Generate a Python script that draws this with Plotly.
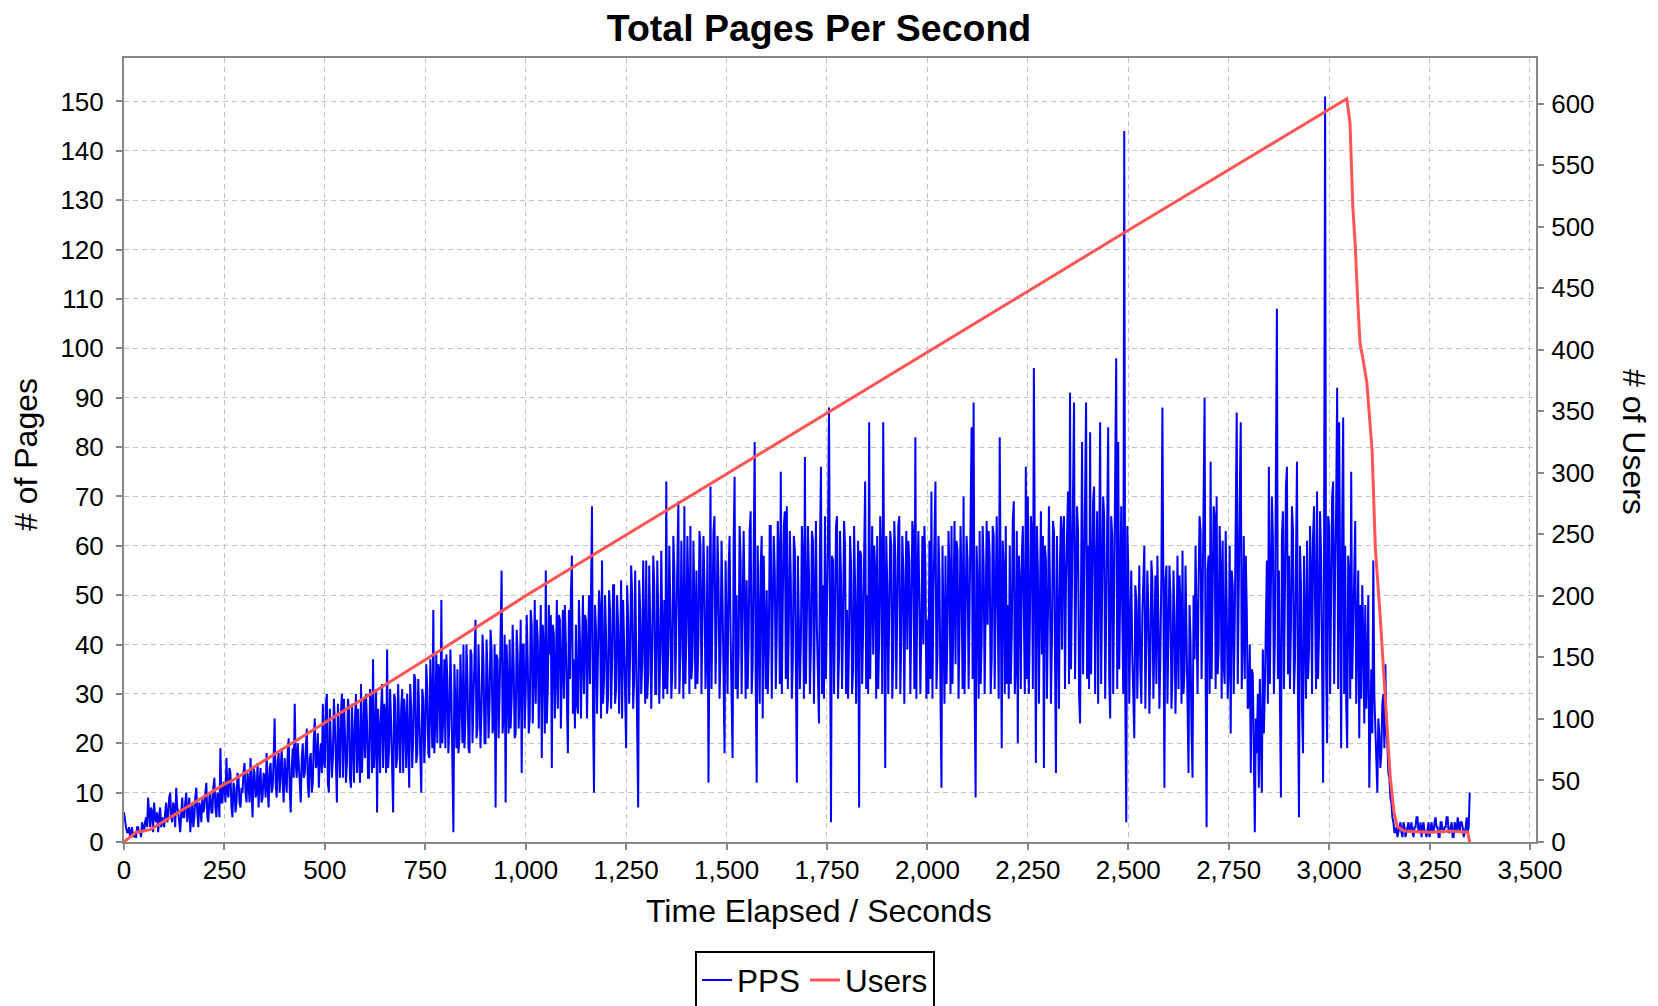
import plotly.graph_objects as go

# PPS sampled every 2.5 seconds; one row of twenty values covers 50 s
STEP = 2.5

pps_0000 = [
    6, 4, 3, 2, 2, 3, 1, 2, 3, 1, 2, 1, 1, 3, 3, 2, 2, 1, 4, 3,
    2, 4, 5, 3, 9, 6, 3, 7, 6, 2, 8, 5, 4, 6, 2, 5, 7, 3, 5, 4,
    3, 6, 8, 4, 5, 9, 10, 5, 4, 8, 7, 3, 11, 7, 6, 4, 2, 6, 9, 5,
    5, 8, 10, 4, 6, 9, 2, 6, 8, 3, 5, 9, 11, 6, 3, 8, 7, 4, 9, 6,
    7, 10, 12, 5, 4, 9, 10, 6, 6, 11, 13, 7, 5, 10, 9, 5, 19, 8, 8, 12,
]
pps_0250 = [
    12, 8, 17, 10, 9, 15, 14, 7, 5, 12, 11, 6, 8, 14, 13, 8, 7, 11, 10, 14,
    16, 10, 8, 14, 12, 8, 17, 11, 5, 15, 14, 9, 10, 16, 7, 12, 15, 8, 9, 14,
    13, 9, 18, 11, 7, 15, 16, 10, 11, 17, 25, 12, 9, 16, 18, 10, 14, 19, 12, 8,
    17, 12, 10, 18, 21, 11, 6, 15, 19, 13, 28, 16, 13, 20, 16, 11, 8, 17, 20, 13,
    14, 19, 23, 12, 9, 17, 18, 10, 12, 21, 25, 15, 16, 22, 11, 17, 20, 14, 28, 16,
]
pps_0500 = [
    15, 28, 30, 12, 10, 27, 21, 13, 17, 29, 24, 12, 8, 28, 19, 13, 26, 30, 13, 29,
    22, 12, 16, 29, 27, 13, 11, 28, 20, 12, 25, 30, 14, 27, 18, 12, 32, 14, 21, 29,
    17, 30, 24, 13, 13, 31, 28, 14, 37, 15, 20, 31, 6, 27, 23, 14, 27, 32, 15, 28,
    26, 14, 39, 15, 19, 31, 24, 13, 6, 30, 29, 15, 17, 32, 22, 14, 27, 31, 14, 29,
    25, 15, 30, 16, 11, 32, 27, 15, 21, 34, 33, 16, 18, 33, 25, 15, 10, 31, 29, 16,
]
pps_0750 = [
    22, 36, 31, 18, 17, 37, 28, 19, 47, 18, 24, 38, 20, 36, 35, 19, 49, 20, 26, 37,
    19, 38, 33, 18, 24, 39, 30, 17, 2, 36, 28, 19, 35, 18, 21, 38, 29, 20, 40, 19,
    25, 40, 33, 19, 18, 39, 38, 20, 29, 41, 45, 21, 23, 40, 31, 19, 27, 42, 36, 20,
    20, 41, 34, 21, 28, 43, 39, 22, 24, 40, 7, 38, 37, 21, 30, 44, 55, 22, 26, 42,
    8, 40, 33, 22, 41, 23, 29, 44, 36, 21, 22, 43, 38, 23, 31, 45, 14, 40, 40, 23,
]
pps_1000 = [
    30, 46, 37, 22, 25, 47, 44, 24, 33, 49, 28, 45, 41, 23, 35, 48, 17, 44, 39, 22,
    55, 24, 31, 48, 38, 46, 15, 44, 42, 25, 34, 49, 27, 46, 45, 23, 36, 47, 29, 48,
    40, 24, 18, 47, 33, 50, 58, 26, 37, 23, 44, 28, 26, 49, 41, 25, 35, 50, 30, 46,
    45, 25, 38, 50, 32, 47, 68, 27, 10, 48, 43, 26, 36, 51, 47, 25, 57, 28, 33, 50,
    42, 26, 29, 51, 47, 27, 36, 52, 52, 28, 31, 50, 44, 26, 38, 53, 25, 49, 40, 27,
]
pps_1250 = [
    19, 52, 45, 28, 38, 56, 50, 27, 33, 55, 42, 29, 7, 53, 47, 30, 36, 57, 41, 28,
    57, 29, 34, 56, 44, 27, 39, 58, 52, 30, 30, 57, 46, 28, 38, 59, 43, 29, 49, 31,
    73, 30, 40, 60, 48, 29, 35, 62, 55, 31, 44, 63, 69, 30, 38, 61, 46, 29, 68, 32,
    42, 62, 50, 30, 64, 33, 37, 61, 48, 31, 55, 32, 41, 63, 60, 30, 46, 62, 52, 31,
    39, 60, 12, 58, 72, 31, 47, 63, 66, 32, 44, 62, 53, 29, 38, 61, 49, 33, 18, 57,
]
pps_1500 = [
    46, 30, 55, 62, 42, 28, 17, 60, 74, 31, 50, 29, 38, 64, 57, 30, 44, 63, 49, 29,
    53, 31, 41, 63, 67, 30, 36, 65, 81, 33, 12, 60, 48, 28, 56, 62, 25, 58, 44, 31,
    51, 30, 39, 64, 64, 29, 47, 62, 55, 31, 42, 65, 58, 32, 75, 30, 49, 64, 67, 33,
    68, 31, 44, 63, 53, 29, 37, 62, 59, 30, 12, 58, 48, 31, 41, 64, 57, 29, 78, 32,
    46, 64, 55, 30, 40, 63, 61, 28, 50, 65, 43, 31, 24, 60, 76, 30, 52, 29, 66, 33,
]
pps_1750 = [
    45, 62, 88, 31, 4, 58, 57, 30, 49, 64, 66, 29, 38, 63, 53, 31, 44, 65, 60, 30,
    47, 29, 41, 62, 56, 30, 35, 64, 52, 28, 45, 61, 7, 59, 58, 32, 43, 63, 73, 31,
    50, 30, 85, 33, 46, 64, 38, 60, 55, 29, 62, 31, 42, 66, 57, 30, 85, 33, 15, 62,
    52, 30, 44, 63, 60, 29, 37, 65, 58, 31, 47, 64, 66, 30, 41, 62, 55, 28, 49, 63,
    39, 61, 57, 30, 46, 65, 62, 31, 82, 29, 53, 63, 48, 30, 44, 62, 40, 64, 56, 29,
]
pps_2000 = [
    45, 30, 61, 33, 71, 29, 50, 64, 73, 31, 38, 62, 54, 30, 11, 60, 47, 28, 58, 32,
    43, 63, 55, 30, 64, 32, 48, 65, 36, 61, 59, 29, 44, 64, 52, 31, 70, 30, 46, 62,
    57, 31, 48, 66, 84, 33, 89, 30, 9, 60, 51, 29, 63, 32, 40, 64, 56, 30, 49, 65,
    44, 63, 58, 30, 37, 64, 62, 31, 50, 66, 47, 29, 82, 34, 19, 61, 55, 30, 64, 32,
    48, 29, 60, 32, 42, 65, 69, 30, 36, 63, 20, 58, 53, 31, 58, 64, 47, 30, 76, 33,
]
pps_2250 = [
    70, 30, 44, 66, 62, 31, 96, 33, 16, 64, 55, 28, 49, 67, 38, 62, 15, 60, 57, 29,
    46, 68, 52, 28, 41, 65, 63, 30, 14, 62, 48, 27, 57, 66, 39, 63, 66, 31, 53, 67,
    71, 32, 91, 35, 58, 70, 89, 33, 47, 68, 63, 30, 24, 66, 81, 34, 55, 72, 89, 33,
    60, 31, 83, 34, 49, 69, 72, 30, 54, 67, 28, 64, 85, 32, 57, 70, 66, 29, 45, 68,
    84, 33, 25, 66, 62, 30, 51, 69, 98, 31, 81, 35, 56, 68, 47, 30, 144, 30, 4, 64,
]
pps_2500 = [
    56, 28, 44, 55, 38, 27, 21, 52, 49, 29, 40, 56, 35, 28, 46, 57, 60, 27, 42, 55,
    47, 26, 36, 57, 53, 29, 41, 54, 32, 58, 45, 27, 38, 55, 88, 30, 11, 53, 56, 28,
    43, 56, 50, 27, 34, 55, 46, 26, 39, 58, 31, 54, 48, 28, 59, 30, 35, 56, 42, 27,
    14, 48, 41, 22, 13, 50, 37, 60, 45, 30, 52, 66, 63, 33, 48, 68, 90, 35, 3, 55,
    58, 30, 77, 33, 47, 68, 66, 31, 70, 34, 39, 64, 55, 29, 61, 36, 32, 63, 48, 29,
]
pps_2750 = [
    36, 60, 22, 55, 52, 30, 44, 66, 87, 32, 59, 70, 85, 31, 41, 62, 33, 58, 47, 27,
    28, 40, 14, 35, 34, 12, 2, 25, 18, 30, 11, 33, 24, 10, 39, 22, 31, 50, 57, 28,
    76, 32, 48, 70, 62, 30, 41, 66, 108, 33, 55, 29, 9, 62, 67, 31, 49, 72, 76, 34,
    58, 31, 44, 68, 63, 30, 37, 66, 77, 28, 5, 60, 52, 27, 18, 58, 46, 29, 61, 33,
    39, 64, 55, 30, 62, 68, 48, 31, 71, 33, 43, 67, 58, 29, 12, 62, 151, 35, 20, 66,
]
pps_3000 = [
    64, 30, 48, 70, 73, 32, 55, 68, 92, 31, 85, 36, 19, 64, 86, 30, 60, 28, 19, 58,
    54, 29, 75, 33, 44, 62, 65, 28, 38, 55, 21, 48, 29, 52, 42, 24, 48, 27, 35, 50,
    11, 26, 35, 22, 57, 30, 24, 14, 10, 25, 22, 15, 18, 28, 30, 19, 36, 22, 20, 14,
    13, 9, 8, 5, 4, 2, 2, 3, 1, 2, 3, 4, 2, 1, 4, 3, 1, 2, 3, 4,
    2, 3, 4, 2, 1, 3, 3, 5, 5, 2, 2, 4, 1, 3, 4, 2, 2, 1, 3, 4,
]
pps_3250 = [
    1, 3, 4, 2, 2, 4, 5, 3, 3, 1, 1, 4, 4, 2, 2, 3, 3, 5, 5, 2,
    2, 3, 4, 1, 1, 4, 3, 2, 5, 3, 2, 4, 4, 3, 1, 2, 3, 5, 2, 3,
    10,
]

pps_blocks = [pps_0000, pps_0250, pps_0500, pps_0750, pps_1000, pps_1250, pps_1500,
              pps_1750, pps_2000, pps_2250, pps_2500, pps_2750, pps_3000, pps_3250]
pps = [v for block in pps_blocks for v in block]
pps_time = [i * STEP for i in range(len(pps))]

# users: ramp up to the peak, then the ramp-down
user_time = [0, 30, 65, 250, 270, 500, 750, 1000, 1500, 2000, 2500, 3044,
             3052, 3059, 3065, 3071, 3077, 3084, 3094, 3107, 3115, 3127, 3136,
             3144, 3152, 3161, 3169, 3186, 3250, 3300, 3345, 3350]
user_count = [0, 8, 10, 47, 50, 97, 148, 200, 299, 398, 497, 604,
              584, 516, 485, 441, 405, 393, 373, 318, 239, 184, 140,
              100, 53, 25, 13, 9, 8, 9, 8, 0]

# the page body adds an 8 px margin, so the figure is 8 px smaller
OFF = 8
W, H = 1658 - OFF, 1006 - OFF
PL, PR, PT, PB = 124 - OFF, 1536 - OFF, 58 - OFF, 842 - OFF
FONT = "Liberation Sans, Arial, sans-serif"
AXIS_GRAY = "#888888"
GRID = "#c4c4c4"


def px_x(x):
    return (x - OFF - PL) / (PR - PL)


def px_y(y):
    return (PB - (y - OFF)) / (PB - PT)


fig = go.Figure()
fig.add_trace(go.Scatter(x=pps_time, y=pps, name="PPS", mode="lines",
                         line=dict(color="#0000ff", width=2)))
fig.add_trace(go.Scatter(x=user_time, y=user_count, name="Users", mode="lines",
                         yaxis="y2", line=dict(color="#ff5555", width=3)))

tick_font = dict(family=FONT, size=26, color="#000000")
axis_common = dict(showline=True, linecolor=AXIS_GRAY, linewidth=2,
                   ticks="outside", ticklen=6, tickwidth=2, tickcolor=AXIS_GRAY,
                   zeroline=False, tickfont=tick_font, automargin=False)
fig.update_layout(
    width=W, height=H,
    margin=dict(l=PL, r=W - PR, t=PT, b=H - PB),
    paper_bgcolor="white", plot_bgcolor="white",
    font=dict(family=FONT, color="#000000"),
    title=dict(text="<b>Total Pages Per Second</b>", x=(819 - OFF) / W, xanchor="center",
               y=1 - (28 - OFF) / H, yanchor="middle", font=dict(family=FONT, size=37.5)),
    xaxis=dict(range=[0, 3515], tick0=0, dtick=250, tickformat=",d", mirror=True,
               showgrid=True, gridcolor=GRID, gridwidth=1, griddash="5px,4px",
               ticklabelstandoff=-2, **axis_common),
    yaxis=dict(range=[0, 158.8], tick0=0, dtick=10,
               showgrid=True, gridcolor=GRID, gridwidth=1, griddash="5px,4px",
               ticklabelstandoff=7, **axis_common),
    yaxis2=dict(range=[0, 637], tick0=0, dtick=50, overlaying="y", side="right",
                showgrid=False, ticklabelstandoff=2, **axis_common),
    legend=dict(orientation="h", xref="container", yref="container",
                x=(695 - OFF) / W, y=1 - (951 - OFF) / H, xanchor="left", yanchor="top",
                bordercolor="#000000", borderwidth=2, bgcolor="white",
                font=dict(family=FONT, size=31.5), itemwidth=30),
    showlegend=True,
)

fig.add_annotation(text="Time Elapsed / Seconds", x=px_x(819), y=px_y(911),
                   xanchor="center", yanchor="middle",
                   xref="paper", yref="paper", showarrow=False,
                   font=dict(family=FONT, size=32))
fig.add_annotation(text="# of Pages", x=px_x(26), y=px_y(455), textangle=-90,
                   xanchor="center", yanchor="middle",
                   xref="paper", yref="paper", showarrow=False,
                   font=dict(family=FONT, size=32))
fig.add_annotation(text="# of Users", x=px_x(1634), y=px_y(442), textangle=90,
                   xanchor="center", yanchor="middle",
                   xref="paper", yref="paper", showarrow=False,
                   font=dict(family=FONT, size=32))

fig.write_html("out.html")
